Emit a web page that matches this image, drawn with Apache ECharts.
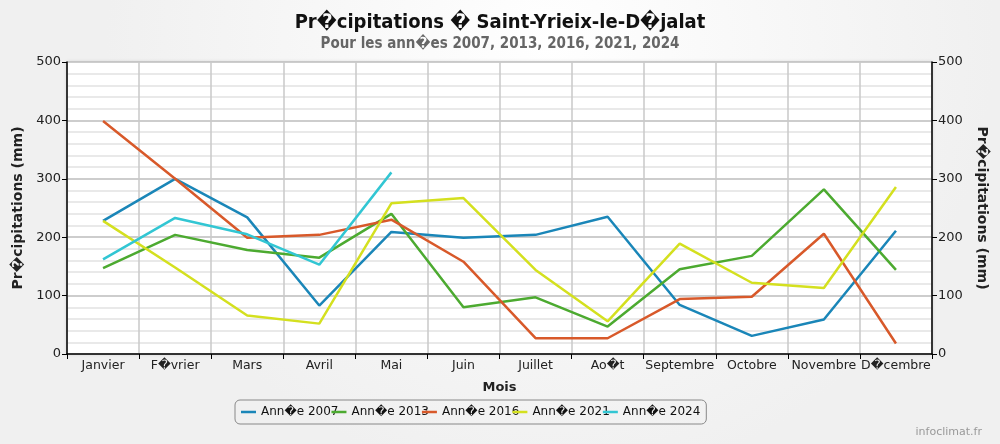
<!DOCTYPE html>
<html>
<head>
<meta charset="utf-8">
<script src="https://cdn.jsdelivr.net/npm/echarts@6/dist/echarts.min.js"></script>
<style>
html,body{margin:0;padding:0;}
#c{width:1000px;height:444px;}
</style>
</head>
<body>
<div id="c"></div>
<script>
const months = ["Janvier","F\uFFFDvrier","Mars","Avril","Mai","Juin","Juillet","Ao\uFFFDt","Septembre","Octobre","Novembre","D\uFFFDcembre"];
const y2007 = [228,300,234,83,209,199,204,235,84,31,59,211];
const y2013 = [147,204,178,165,240,80,97,47,145,168,282,144];
const y2016 = [399,300,199,204,230,158,27,27,94,98,206,18];
const y2021 = [228,148,66,52,258,267,144,56,189,122,113,286];
const y2024 = [162,233,205,153,311,null,null,null,null,null,null,null];
const seriesNames = ["Ann\uFFFDe 2007","Ann\uFFFDe 2013","Ann\uFFFDe 2016","Ann\uFFFDe 2021","Ann\uFFFDe 2024"];
const seriesData = [y2007,y2013,y2016,y2021,y2024];
const colors = ["#1a86b8","#4caa30","#d8592a","#d4e01f","#32c6d3"];
const yTicks = [0,100,200,300,400,500];

const chart = echarts.init(document.getElementById('c'));
const yAxisBase = {
  type:'value', min:0, max:500, interval:100,
  axisLine:{show:true,lineStyle:{color:'#000',width:1.5}},
  axisTick:{show:true,length:5,lineStyle:{color:'#000'}},
  axisLabel:{color:'#222',fontSize:13,fontFamily:'DejaVu Sans',margin:6},
  name:"Pr\uFFFDcipitations (mm)", nameLocation:'middle',
  nameTextStyle:{fontWeight:'bold',fontSize:14,fontFamily:'DejaVu Sans',color:'#222'},
  minorTick:{show:false, splitNumber:5},
};
chart.setOption({
  backgroundColor:{type:'radial',x:0.55,y:0.1,r:1.0,colorStops:[{offset:0,color:'#ffffff'},{offset:1,color:'#f0f0f0'}]},
  animation:false,
  title:[
    {text:"Pr\uFFFDcipitations \uFFFD Saint-Yrieix-le-D\uFFFDjalat",left:'center',top:8,
     textStyle:{fontFamily:'DejaVu Sans Condensed',fontWeight:'bold',fontSize:20,color:'#111'}},
    {text:"Pour les ann\uFFFDes 2007, 2013, 2016, 2021, 2024",left:'center',top:32,
     textStyle:{fontFamily:'DejaVu Sans Condensed',fontWeight:'bold',fontSize:15,color:'#666'}}
  ],
  grid:{left:67,right:68,top:62,bottom:90,show:true,backgroundColor:'#fff',borderWidth:0,
        shadowColor:'rgba(0,0,0,0.15)',shadowBlur:4},
  legend:{
    left:235, top:400, padding:[6,6,6,6], itemGap:-7, itemWidth:15, itemHeight:2.5,
    borderColor:'#888', borderWidth:1, borderRadius:5,
    icon:'rect',
    textStyle:{fontFamily:'DejaVu Sans',fontSize:12,color:'#111'},
    data:seriesNames
  },
  xAxis:{
    type:'category', data:months, boundaryGap:true,
    axisLine:{lineStyle:{color:'#000',width:1.5}},
    axisTick:{show:true,length:5,lineStyle:{color:'#000'}},
    axisLabel:{color:'#222',fontSize:12.5,fontFamily:'DejaVu Sans',margin:5,interval:0},
    splitLine:{show:true,lineStyle:{color:'#c8c8c8',width:1.5}},
    name:'Mois', nameLocation:'middle', nameGap:27,
    nameTextStyle:{fontWeight:'bold',fontSize:13,fontFamily:'DejaVu Sans',color:'#222'}
  },
  yAxis:[
    Object.assign({},yAxisBase,{position:'left',nameGap:36,nameRotate:90,
      splitLine:{show:true,lineStyle:{color:'#bdbdbd',width:1.5}},
      minorSplitLine:{show:true,lineStyle:{color:'#e2e2e2',width:1.5}}}),
    Object.assign({},yAxisBase,{position:'right',nameGap:43,nameRotate:-90,
      splitLine:{show:false},minorSplitLine:{show:false}})
  ],
  series: seriesNames.map((n,i)=>({
    name:n, type:'line', data:seriesData[i], showSymbol:false, symbol:'none',
    lineStyle:{width:2.5,color:colors[i]}, itemStyle:{color:colors[i]}, connectNulls:false
  })),
  graphic:[{type:'text',right:18,bottom:6,style:{text:'infoclimat.fr',fill:'#999',fontSize:11,fontFamily:'DejaVu Sans'}}]
});
</script>
</body>
</html>
